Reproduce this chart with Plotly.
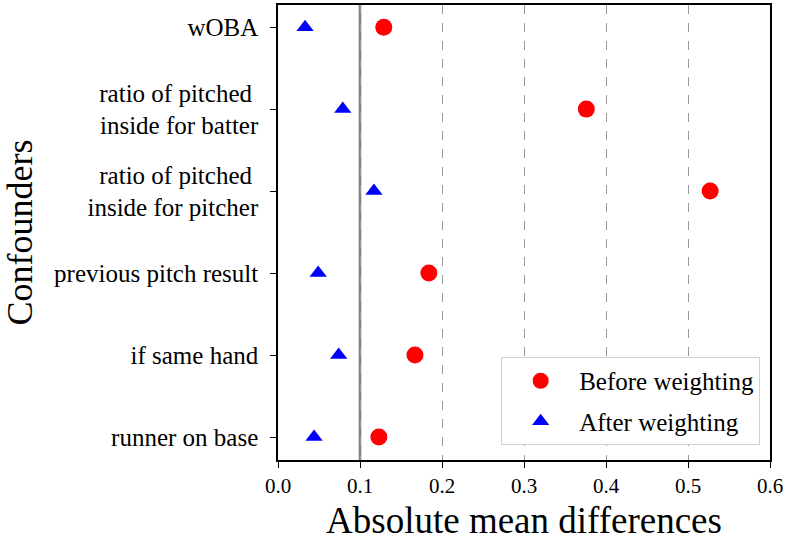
import plotly.graph_objects as go

categories = ["runner on base", "if same hand", "previous pitch result",
              "ratio of pitched inside for pitcher", "ratio of pitched inside for batter", "wOBA"]
tick_labels = ["runner on base", "if same hand", "previous pitch result",
               "ratio of pitched <br>inside for pitcher", "ratio of pitched <br>inside for batter", "wOBA"]
before = [0.123, 0.167, 0.184, 0.527, 0.376, 0.129]
after = [0.044, 0.074, 0.049, 0.117, 0.079, 0.033]
threshold = 0.1

FONT = "Liberation Serif"

fig = go.Figure()
fig.add_trace(go.Scatter(x=before, y=categories, mode="markers", name="Before weighting",
                         legendgroup="b",
                         marker=dict(symbol="circle", color="red", size=17)))
fig.add_trace(go.Scatter(x=after, y=categories, mode="markers", name="After weighting",
                         legendgroup="a",
                         marker=dict(symbol="triangle-up", color="blue", size=15)))

fig.add_vline(x=threshold, line=dict(color="gray", width=2.6), layer="below")

fig.update_layout(
    width=789, height=543,
    margin=dict(l=278, r=19, t=5, b=83),
    plot_bgcolor="white", paper_bgcolor="white",
    font=dict(family=FONT, color="black", size=21),
    legend=dict(x=0.98, y=0.033, xanchor="right", yanchor="bottom",
                bgcolor="white", bordercolor="#d0d0d0", borderwidth=1,
                font=dict(family=FONT, size=25), itemwidth=67,
                tracegroupgap=5),
    showlegend=True,
)
fig.update_xaxes(range=[0, 0.6], tickvals=[0, 0.1, 0.2, 0.3, 0.4, 0.5, 0.6],
                 ticktext=["0.0", "0.1", "0.2", "0.3", "0.4", "0.5", "0.6"],
                 tickfont=dict(family=FONT, size=21),
                 showgrid=True, gridcolor="#999999", griddash="dash", gridwidth=0.8,
                 zeroline=False, showline=True, linecolor="black", linewidth=1.5, mirror=True,
                 ticks="outside", ticklen=6, tickcolor="black", automargin=False,
                 title=dict(text="Absolute mean differences", font=dict(family=FONT, size=37), standoff=10))
fig.update_yaxes(type="category", categoryorder="array", categoryarray=categories,
                 tickvals=categories, ticktext=tick_labels,
                 tickfont=dict(family=FONT, size=25), ticklabelstandoff=7,
                 range=[-0.28, 5.27], showgrid=False, zeroline=False,
                 showline=True, linecolor="black", linewidth=1.5, mirror=True,
                 ticks="outside", ticklen=6, tickcolor="black", automargin=False,
                 title=dict(text="Confounders", font=dict(family=FONT, size=36), standoff=12))

fig.write_html("out.html", post_script="document.body.style.margin='0';",
               config={"displayModeBar": False})
